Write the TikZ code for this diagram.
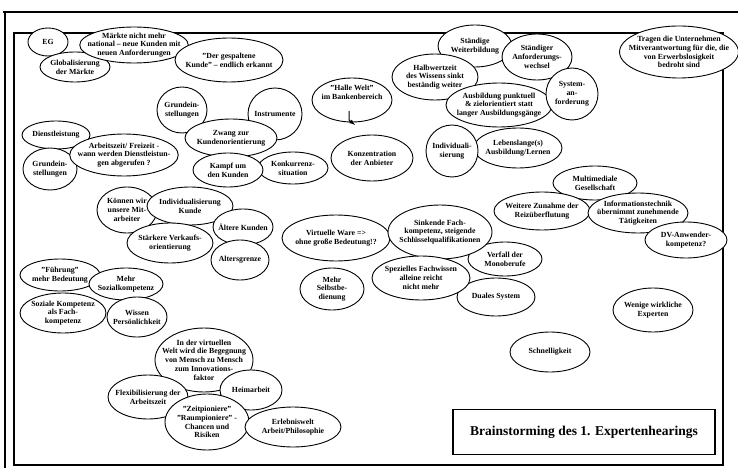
\documentclass[tikz,border=0pt]{standalone}
\usepackage{fontspec}
\setmainfont{Liberation Serif}
\usetikzlibrary{shapes.geometric}
\tikzset{
  bub/.style={ellipse, draw, fill=white, line width=.9pt, inner xsep=-8pt, inner ysep=-4pt,
    align=center, font=\fontsize{7.8}{8.8}\selectfont\bfseries},
  frame/.style={line width=1.2pt}
}
\begin{document}
\begin{tikzpicture}[x=1pt,y=-1pt]
\useasboundingbox (0,0) rectangle (738,470);
\draw[frame] (3,12)--(738,12);
\draw[frame] (5,12)--(5,468);
\draw[frame] (14,33) rectangle (723,465);

\node[bub, minimum width=40, minimum height=28] (eg) at (48,42) {EG};
\node[bub, minimum width=70, minimum height=30] (global) at (75,67) {Globalisierung\\der Märkte};
\node[bub, minimum width=108, minimum height=36] (maerkte) at (134,45) {Märkte nicht mehr\\national – neue Kunden mit\\neuen Anforderungen};
\node[bub, minimum width=108, minimum height=44] (kunde) at (229,60) {"Der gespaltene\\Kunde" – endlich erkannt};
\node[bub, minimum width=50, minimum height=46] (grundA) at (182,110) {Grundein-\\stellungen};
\node[bub, minimum width=54, minimum height=52] (instr) at (275,114) {Instrumente};
\node[bub, minimum width=70, minimum height=32] (konk) at (293,168) {Konkurrenz-\\situation};
\node[bub, minimum width=92, minimum height=38] (zwang) at (231,138) {Zwang zur\\Kundenorientierung};
\node[bub, minimum width=70, minimum height=34] (kampf) at (228,170) {Kampf um\\den Kunden};

\node[bub, minimum width=68, minimum height=28] (dienst) at (56,135) {Dienstleistung};
\node[bub, minimum width=54, minimum height=42] (grundB) at (50,169) {Grundein-\\stellungen};
\node[bub, minimum width=106, minimum height=42] (arbeit) at (124,155) {Arbeitszeit/ Freizeit -\\wann werden Dienstleistun-\\gen abgerufen ?};

\node[bub, minimum width=80, minimum height=44] (halle) at (352,100) {"Halle Welt"\\im Bankenbereich\\[7pt]};
\coordinate (hwA) at (349,111);
\coordinate (hwB) at (355,125);
\draw[line width=1pt,-latex] (hwA) -- ++(0,9) -- (hwB);
\node[bub, minimum width=82, minimum height=46] (konz) at (372,158) {Konzentration\\der Anbieter};

\node[bub, minimum width=74, minimum height=42] (weiter) at (475,46) {Ständige\\Weiterbildung};
\node[bub, minimum width=70, minimum height=46] (wechsel) at (537,57) {Ständiger\\Anforderungs-\\wechsel};
\node[bub, minimum width=86, minimum height=46] (halb) at (435,77) {Halbwertzeit\\des Wissens sinkt\\beständig weiter};
\node[bub, minimum width=106, minimum height=44] (ausb) at (499,105) {Ausbildung punktuell\\\& zielorientiert statt\\langer Ausbildungsgänge};
\node[bub, minimum width=52, minimum height=52] (system) at (572,94) {System-\\an-\\forderung};
\node[bub, minimum width=88, minimum height=40] (leben) at (518,148) {Lebenslange(s)\\Ausbildung/Lernen};
\node[bub, minimum width=52, minimum height=52] (indiv) at (452,151) {Individuali-\\sierung};
\node[bub, minimum width=118, minimum height=52] (tragen) at (679,52) {Tragen die Unternehmen\\Mitverantwortung für die, die\\von Erwerbslosigkeit\\bedroht sind};

\node[bub, minimum width=84, minimum height=34] (multi) at (595,183) {Multimediale\\Gesellschaft};
\node[bub, minimum width=96, minimum height=38] (reiz) at (542,211) {Weitere Zunahme der\\Reizüberflutung};
\node[bub, minimum width=100, minimum height=40] (info) at (638,213) {Informationstechnik\\übernimmt zunehmende\\Tätigkeiten};
\node[bub, minimum width=82, minimum height=36] (dv) at (686,240) {DV-Anwender-\\kompetenz?};
\node[bub, minimum width=80, minimum height=44] (experten) at (653,310) {Wenige wirkliche\\Experten};
\node[bub, minimum width=80, minimum height=40] (schnell) at (550,352) {Schnelligkeit};

\node[bub, minimum width=108, minimum height=46] (ware) at (336,238) {Virtuelle Ware =>\\ohne große Bedeutung!?};
\node[bub, minimum width=74, minimum height=34] (verfall) at (505,259) {Verfall der\\Monoberufe};
\node[bub, minimum width=104, minimum height=54] (sinkend) at (440,232) {Sinkende Fach-\\kompetenz, steigende\\Schlüsselqualifikationen};
\node[bub, minimum width=78, minimum height=38] (dual) at (496,297) {Duales System};
\node[bub, minimum width=98, minimum height=44] (speziell) at (421,278) {Spezielles Fachwissen\\alleine reicht\\nicht mehr};
\node[bub, minimum width=64, minimum height=42] (selbst) at (332,289) {Mehr\\Selbstbe-\\dienung};

\node[bub, minimum width=60, minimum height=46] (koennen) at (127,210) {Können wir\\unsere Mit-\\arbeiter};
\node[bub, minimum width=86, minimum height=38] (indkunde) at (190,206) {Individualisierung\\Kunde};
\node[bub, minimum width=60, minimum height=36] (aeltere) at (243,227) {Ältere Kunden};
\node[bub, minimum width=86, minimum height=40] (verkauf) at (170,243) {Stärkere Verkaufs-\\orientierung};
\node[bub, minimum width=58, minimum height=40] (alter) at (240,260) {Altersgrenze};

\node[bub, minimum width=80, minimum height=32] (fuehrung) at (60,275) {"Führung"\\mehr Bedeutung};
\node[bub, minimum width=74, minimum height=32] (sozial) at (126,284) {Mehr\\Sozialkompetenz};
\node[bub, minimum width=86, minimum height=40] (sozkomp) at (63,313) {Soziale Kompetenz\\als Fach-\\kompetenz};
\node[bub, minimum width=60, minimum height=40] (wissen) at (137,317) {Wissen\\Persönlichkeit};

\node[bub, minimum width=98, minimum height=64] (virtuell) at (204,360) {In der virtuellen\\Welt wird die Begegnung\\von Mensch zu Mensch\\zum Innovations-\\faktor};
\node[bub, minimum width=62, minimum height=40] (heim) at (251,390) {Heimarbeit};
\node[bub, minimum width=80, minimum height=44] (flex) at (148,397) {Flexibilisierung der\\Arbeitszeit};
\node[bub, minimum width=84, minimum height=56] (zeit) at (207,422) {"Zeitpioniere"\\"Raumpioniere" -\\Chancen und\\Risiken};
\node[bub, minimum width=96, minimum height=40] (erleb) at (293,427) {Erlebniswelt\\Arbeit/Philosophie};

\node[draw, frame, minimum width=262, minimum height=45, font=\fontsize{13.5}{15}\selectfont\bfseries] (titel) at (584,432) {Brainstorming des 1. Expertenhearings};
\end{tikzpicture}
\end{document}
